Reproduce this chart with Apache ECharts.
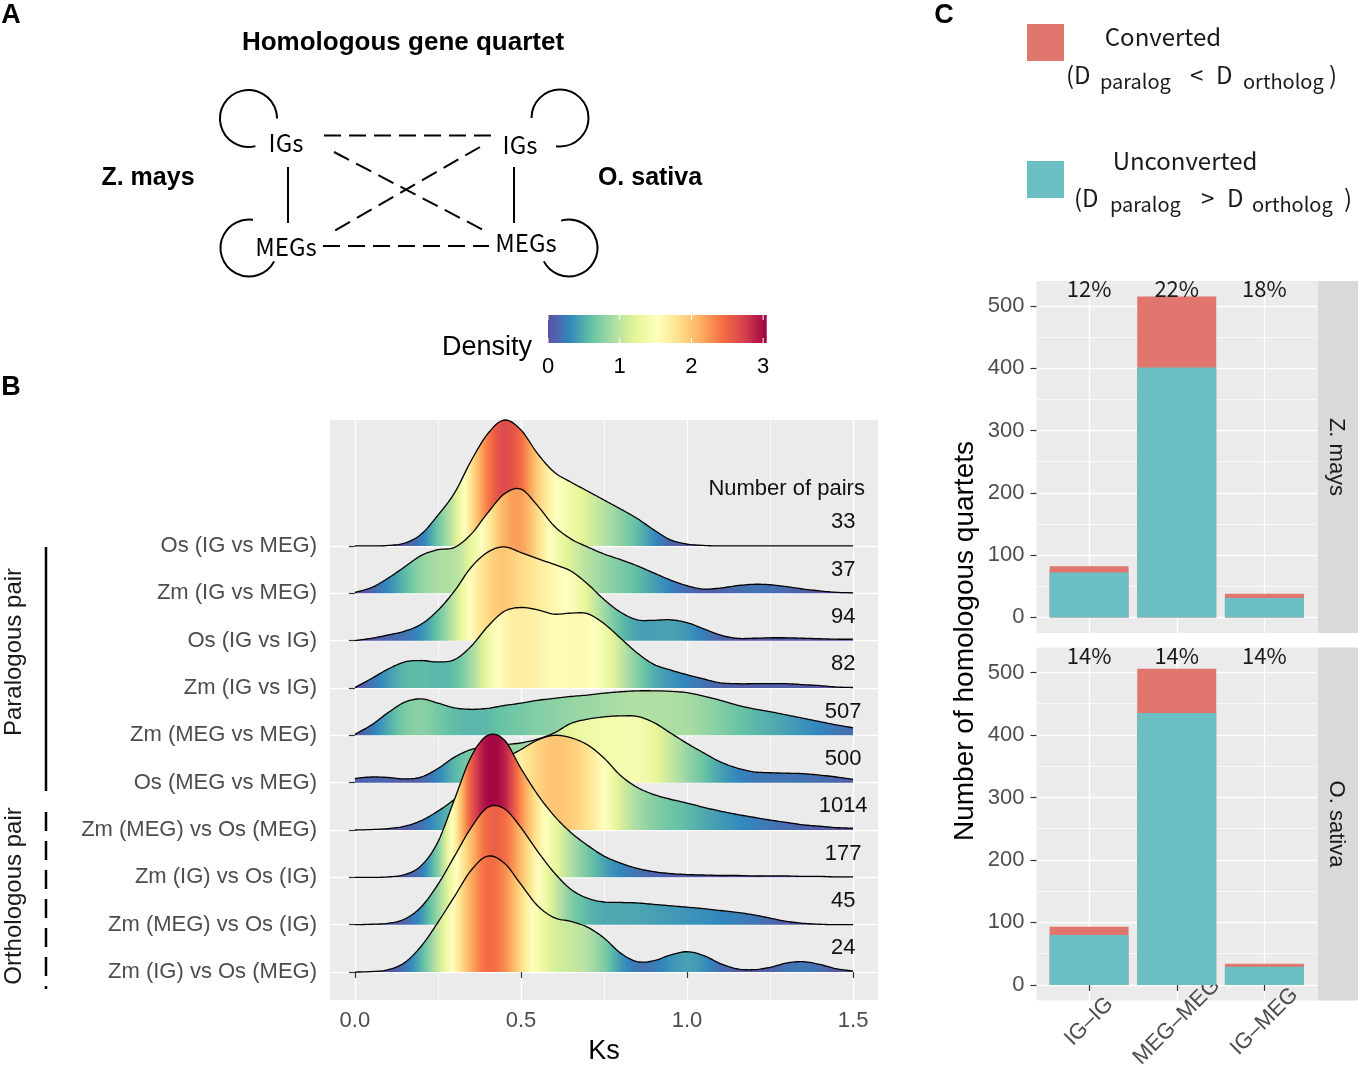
<!DOCTYPE html>
<html><head><meta charset="utf-8">
<script src="https://cdn.jsdelivr.net/npm/echarts@6/dist/echarts.min.js"></script>
<style>html,body{margin:0;padding:0;background:#fff}#c{width:1358px;height:1066px}</style>
</head><body><div id="c"></div><script>
// ---------------- DATA ----------------
// Panel B: Ks sample positions (x) and density curves per comparison (top row first)
const ks = [0,0.05,0.1,0.15,0.2,0.25,0.3,0.35,0.4,0.45,0.5,0.55,0.6,0.65,0.7,0.75,0.8,0.85,0.9,0.95,1,1.05,1.1,1.15,1.2,1.25,1.3,1.35,1.4,1.45,1.5];
const rowNames = ['Os (IG vs MEG)','Zm (IG vs MEG)','Os (IG vs IG)','Zm (IG vs IG)','Zm (MEG vs MEG)','Os (MEG vs MEG)','Zm (MEG) vs Os (MEG)','Zm (IG) vs Os (IG)','Zm (MEG) vs Os (IG)','Zm (IG) vs Os (MEG)'];
const pairCounts = [33, 37, 94, 82, 507, 500, 1014, 177, 45, 24];
const dOsIGvsMEG   = [0,0,0.01,0.06,0.25,0.65,1.12,1.8,2.37,2.66,2.45,1.95,1.56,1.35,1.16,0.97,0.78,0.58,0.34,0.13,0.04,0.01,0,0,0,0,0,0,0,0,0];
const dZmIGvsMEG   = [0.02,0.12,0.32,0.56,0.8,0.92,0.97,1.25,1.7,2.1,2.2,1.85,1.42,1.15,0.98,0.83,0.71,0.58,0.43,0.28,0.16,0.09,0.11,0.16,0.19,0.18,0.14,0.09,0.05,0.02,0.01];
const dOsIGvsIG    = [0,0.05,0.12,0.2,0.35,0.64,1.05,1.55,1.87,1.98,1.86,1.73,1.61,1.47,1.2,0.87,0.6,0.44,0.43,0.44,0.38,0.25,0.12,0.05,0.05,0.06,0.06,0.05,0.04,0.03,0.03];
const dZmIGvsIG    = [0.01,0.2,0.4,0.55,0.58,0.55,0.6,0.88,1.3,1.62,1.7,1.65,1.56,1.58,1.57,1.36,1.05,0.74,0.5,0.38,0.28,0.19,0.11,0.09,0.09,0.09,0.09,0.07,0.05,0.02,0.01];
const dZmMEGvsMEG  = [0.02,0.22,0.48,0.7,0.77,0.68,0.58,0.55,0.57,0.63,0.68,0.74,0.78,0.82,0.85,0.89,0.92,0.94,0.94,0.93,0.9,0.83,0.74,0.64,0.56,0.5,0.43,0.36,0.29,0.22,0.16];
const dOsMEGvsMEG  = [0.09,0.12,0.11,0.08,0.12,0.3,0.54,0.7,0.76,0.8,0.84,0.92,1.05,1.25,1.34,1.39,1.41,1.4,1.27,1.05,0.83,0.63,0.44,0.31,0.23,0.21,0.2,0.19,0.16,0.12,0.07];
const dZmMEGOsMEG  = [0,0.01,0.03,0.08,0.2,0.4,0.65,0.95,1.25,1.5,1.7,1.9,2.0,1.95,1.8,1.52,1.15,0.9,0.75,0.65,0.57,0.48,0.4,0.33,0.27,0.21,0.16,0.11,0.08,0.05,0.04];
const dZmIGOsIG    = [0,0,0.01,0.06,0.25,0.75,1.65,2.55,3.0,2.9,2.3,1.75,1.3,0.95,0.68,0.45,0.3,0.19,0.12,0.08,0.06,0.05,0.04,0.04,0.03,0.03,0.03,0.02,0.02,0.01,0.01];
const dZmMEGOsIG   = [0,0.01,0.03,0.12,0.38,0.85,1.45,2.05,2.48,2.45,2.05,1.55,1.1,0.75,0.56,0.48,0.47,0.46,0.43,0.4,0.37,0.34,0.3,0.26,0.21,0.14,0.07,0.03,0.01,0,0];
const dZmIGOsMEG   = [0,0.01,0.05,0.2,0.55,1.05,1.6,2.15,2.45,2.3,1.85,1.4,1.15,1.07,0.95,0.72,0.4,0.22,0.24,0.36,0.43,0.35,0.18,0.07,0.05,0.1,0.19,0.22,0.16,0.07,0.02];
const densities = [dOsIGvsMEG,dZmIGvsMEG,dOsIGvsIG,dZmIGvsIG,dZmMEGvsMEG,dOsMEGvsMEG,dZmMEGOsMEG,dZmIGOsIG,dZmMEGOsIG,dZmIGOsMEG];
const ksTicks = [0, 0.5, 1, 1.5];
const ksMinor = [0.25, 0.75, 1.25];
const densityTicks = [0, 1, 2, 3];
const densityMax = 3.05;

// Panel C
const cCats = ['IG\u2013IG', 'MEG\u2013MEG', 'IG\u2013MEG'];
const zmUnconverted = [72, 401, 31];
const zmConverted   = [10, 114, 7];
const zmPct = ['12%', '22%', '18%'];
const osUnconverted = [80, 435, 29];
const osConverted   = [13, 71, 5];
const osPct = ['14%', '14%', '14%'];
const countTicks = [0, 100, 200, 300, 400, 500];
const countMinor = [50, 150, 250, 350, 450];

// ---------------- HELPERS ----------------
const spectral = ['#5E4FA2','#3288BD','#66C2A5','#ABDDA4','#E6F598','#FFFFBF','#FEE08B','#FDAE61','#F46D43','#D53E4F','#9E0142'];
const specRGB = spectral.map(h => [parseInt(h.slice(1,3),16), parseInt(h.slice(3,5),16), parseInt(h.slice(5,7),16)]);
function colorAt(d) {
  let t = d / densityMax; t = t < 0 ? 0 : (t > 1 ? 1 : t);
  const p = t * (specRGB.length - 1);
  const i = Math.min(specRGB.length - 2, Math.floor(p));
  const f = p - i, a = specRGB[i], b = specRGB[i + 1];
  return 'rgb(' + Math.round(a[0] + (b[0]-a[0])*f) + ',' + Math.round(a[1] + (b[1]-a[1])*f) + ',' + Math.round(a[2] + (b[2]-a[2])*f) + ')';
}
const SUB = 8;
function smoothPts(p, yMax) {
  const out = [], n = p.length;
  for (let i = 0; i < n - 1; i++) {
    const p0 = p[Math.max(0, i - 1)], p1 = p[i], p2 = p[i + 1], p3 = p[Math.min(n - 1, i + 2)];
    for (let s = 0; s < SUB; s++) {
      const t = s / SUB, t2 = t * t, t3 = t2 * t;
      const c = k => 0.5 * (2*p1[k] + (-p0[k] + p2[k])*t + (2*p0[k] - 5*p1[k] + 4*p2[k] - p3[k])*t2 + (-p0[k] + 3*p1[k] - 3*p2[k] + p3[k])*t3);
      out.push([c(0), Math.min(c(1), yMax)]);
    }
  }
  out.push([p[n-1][0], Math.min(p[n-1][1], yMax)]);
  return out;
}
const nRows = rowNames.length;

function renderRidge(params, api) {
  const i = params.dataIndex;
  const yb = nRows - 1 - i;
  const dens = densities[i];
  const pts = ks.map((x, j) => api.coord([x, yb + dens[j]]));
  const b0 = api.coord([ks[0], yb]);
  const b1 = api.coord([ks[ks.length - 1], yb]);
  const unit = api.size([0, 1])[1];
  const curve = smoothPts(pts, b0[1]);
  const poly = curve.concat([[b1[0], b1[1]], [b0[0], b0[1]]]);
  const stops = curve.map(pt => ({
    offset: Math.max(0, Math.min(1, (pt[0] - b0[0]) / (b1[0] - b0[0]))),
    color: colorAt((b0[1] - pt[1]) / unit)
  }));
  return {
    type: 'group',
    children: [
      { type: 'polygon', shape: { points: poly },
        style: { fill: { type: 'linear', x: b0[0], y: 0, x2: b1[0], y2: 0, global: true, colorStops: stops }, stroke: null } },
      { type: 'polyline', shape: { points: curve }, style: { stroke: '#000', lineWidth: 1.3, fill: null } }
    ]
  };
}

// ---------------- GRAPHICS (panel A diagram, legends, titles) ----------------
const FS = "'Liberation Sans', Arial, sans-serif";
const CJK = "'Noto Sans CJK SC', 'Noto Sans', sans-serif";
const G = [];
function txt(x, y, text, size, opts) {
  opts = opts || {};
  G.push({
    type: 'text', x: x, y: y, rotation: opts.rotation || 0, z: 100,
    style: {
      text: text, fill: opts.color || '#000',
      font: (opts.weight || 'normal') + ' ' + size + 'px ' + (opts.family || FS),
      align: opts.align || 'center', verticalAlign: 'middle',
      textAlign: opts.align || 'center', textVerticalAlign: 'middle'
    }
  });
}
function line(x1, y1, x2, y2, dash, w) {
  G.push({ type: 'line', z: 100, shape: { x1, y1, x2, y2 }, style: { stroke: '#000', lineWidth: w || 2, lineDash: dash || null } });
}
function arc(cx, cy, r, a0, a1) {
  G.push({ type: 'arc', z: 100, shape: { cx, cy, r, startAngle: a0 * Math.PI / 180, endAngle: a1 * Math.PI / 180, clockwise: true },
    style: { stroke: '#000', lineWidth: 2, fill: null } });
}
// panel letters
txt(11, 16, 'A', 27, { weight: 'bold' });
txt(11, 388, 'B', 27, { weight: 'bold' });
txt(944, 16, 'C', 27, { weight: 'bold' });
// panel A
txt(403, 43, 'Homologous gene quartet', 26, { weight: 'bold' });
txt(148, 178, 'Z. mays', 25, { weight: 'bold' });
txt(650, 178, 'O. sativa', 25, { weight: 'bold' });
txt(286, 143, 'IGs', 24, { family: CJK });
txt(520, 145, 'IGs', 24, { family: CJK });
txt(286, 247, 'MEGs', 24, { family: CJK });
txt(526, 243, 'MEGs', 24, { family: CJK });
line(288, 167, 288, 223);
line(514, 167, 514, 223);
line(324, 135.5, 492, 135.5, [17, 8]);
line(323, 246, 489, 246, [17, 8]);
line(334, 152, 489, 233, [17, 8]);
line(480, 147, 334, 231, [17, 8]);
arc(248.5, 118.5, 28.5, 76, 360);
arc(560, 118, 28.5, 180, 458);
arc(249, 248, 28.5, 28, 278);
arc(569, 248, 28.5, 254, 512);
// density colorbar
const cbX = 548, cbY = 315, cbW = 218.7, cbH = 28;
G.push({ type: 'rect', z: 100, shape: { x: cbX, y: cbY, width: cbW, height: cbH },
  style: { fill: { type: 'linear', x: 0, y: 0, x2: 1, y2: 0, colorStops: spectral.map((c, i) => ({ offset: i / (spectral.length - 1), color: c })) } } });
densityTicks.forEach(v => {
  const px = cbX + v / densityMax * cbW;
  G.push({ type: 'line', z: 101, shape: { x1: px, y1: cbY, x2: px, y2: cbY + 5 }, style: { stroke: '#fff', lineWidth: 1 } });
  G.push({ type: 'line', z: 101, shape: { x1: px, y1: cbY + cbH - 5, x2: px, y2: cbY + cbH }, style: { stroke: '#fff', lineWidth: 1 } });
  txt(px, 367, String(v), 22);
});
txt(487, 348, 'Density', 27);
// panel B side group labels
txt(14, 652, 'Paralogous pair', 24, { rotation: Math.PI / 2, color: '#1a1a1a' });
txt(14, 896, 'Orthologous pair', 24, { rotation: Math.PI / 2, color: '#1a1a1a' });
line(46, 547, 46, 791, null, 2.5);
line(46, 812, 46, 989, [19, 10], 2.5);
// panel C legend
const RED = '#E0766E', TEAL = '#6CBFC3';
G.push({ type: 'rect', z: 100, shape: { x: 1027, y: 24, width: 37, height: 37 }, style: { fill: RED } });
G.push({ type: 'rect', z: 100, shape: { x: 1027, y: 161, width: 37, height: 37 }, style: { fill: TEAL } });
txt(1163, 37, 'Converted', 24, { family: CJK, color: '#1a1a1a' });
txt(1185, 161, 'Unconverted', 24, { family: CJK, color: '#1a1a1a' });
function relLine(y, pieces) {
  pieces.forEach(p => txt(p[0], y + (p[2] ? 6 : 0), p[1], p[2] ? 20 : 24, { family: CJK, align: 'left', color: '#1a1a1a' }));
}
relLine(75, [[1066, '(D', 0], [1100, 'paralog', 1], [1190, '<', 0], [1216, 'D', 0], [1243, 'ortholog', 1], [1329, ')', 0]]);
relLine(198, [[1074, '(D', 0], [1110, 'paralog', 1], [1201, '>', 0], [1227, 'D', 0], [1252, 'ortholog', 1], [1344, ')', 0]]);
// panel C strips
G.push({ type: 'rect', z: 1, shape: { x: 1317.5, y: 281, width: 45, height: 352 }, style: { fill: '#D9D9D9' } });
G.push({ type: 'rect', z: 1, shape: { x: 1317.5, y: 647.5, width: 45, height: 353 }, style: { fill: '#D9D9D9' } });
txt(1336, 457, 'Z. mays', 22, { rotation: -Math.PI / 2, color: '#1a1a1a' });
txt(1336, 824, 'O. sativa', 22, { rotation: -Math.PI / 2, color: '#1a1a1a' });
txt(965, 641, 'Number of homologous quartets', 28, { rotation: Math.PI / 2 });

// text labels placed by data coordinates (custom series)
function textSeries(xi, yi, pts, labels, font, color) {
  return {
    type: 'custom', xAxisIndex: xi, yAxisIndex: yi, z: 6, data: pts,
    renderItem: (params, api) => {
      const p = api.coord([api.value(0), api.value(1)]);
      return { type: 'text', x: p[0], y: p[1], style: {
        text: labels[params.dataIndex], fill: color, font: font,
        align: 'center', verticalAlign: 'middle', textAlign: 'center', textVerticalAlign: 'middle' } };
    }
  };
}

// ---------------- OPTION ----------------
const axisTextGray = '#4D4D4D';
function valueAxisBase(extra) {
  return Object.assign({
    type: 'value', axisLine: { show: false },
    axisTick: { show: true, length: 6, lineStyle: { color: '#333', width: 1.2 } },
    splitLine: { show: true, lineStyle: { color: '#fff', width: 1.4 } },
    axisLabel: { color: axisTextGray, fontSize: 22, fontFamily: FS }
  }, extra);
}
function minorAxis(extra, vals) {
  return Object.assign({
    type: 'value', axisLine: { show: false },
    axisTick: { show: false, customValues: vals },
    axisLabel: { show: false, customValues: vals },
    splitLine: { show: true, lineStyle: { color: '#fff', width: 0.7 } }
  }, extra);
}
const barPanel = (xi, yi, unconv, conv, pct) => [
  { type: 'bar', xAxisIndex: xi, yAxisIndex: yi, barWidth: 79, barGap: '-100%', itemStyle: { color: RED },
    data: cCats.map((c, k) => [k + 1, unconv[k] + conv[k]]), z: 3 },
  { type: 'bar', xAxisIndex: xi, yAxisIndex: yi, barWidth: 79, barGap: '-100%', itemStyle: { color: TEAL },
    data: cCats.map((c, k) => [k + 1, unconv[k]]), z: 3 },
  textSeries(xi, yi, cCats.map((c, k) => [k + 1, 527]), pct, '22px ' + CJK, '#1a1a1a')
];

const option = {
  animation: false,
  backgroundColor: '#fff',
  grid: [
    { left: 330, top: 420, width: 548, height: 580, show: true, backgroundColor: '#EBEBEB', borderWidth: 0, containLabel: false, outerBoundsMode: 'none' },
    { left: 1036.5, top: 281, width: 280.5, height: 352, show: true, backgroundColor: '#EBEBEB', borderWidth: 0, containLabel: false, outerBoundsMode: 'none' },
    { left: 1036.5, top: 647.5, width: 280.5, height: 353, show: true, backgroundColor: '#EBEBEB', borderWidth: 0, containLabel: false, outerBoundsMode: 'none' }
  ],
  xAxis: [
    valueAxisBase({ gridIndex: 0, min: -0.075, max: 1.575, position: 'bottom',
      name: 'Ks', nameLocation: 'middle', nameGap: 38, nameTextStyle: { fontSize: 27, color: '#000', fontFamily: FS },
      axisTick: { show: true, length: 6, customValues: ksTicks, lineStyle: { color: '#333', width: 1.2 } },
      axisLabel: { color: axisTextGray, fontSize: 22, fontFamily: FS, margin: 10, customValues: ksTicks, formatter: v => Number(v).toFixed(1) } }),
    minorAxis({ gridIndex: 0, min: -0.075, max: 1.575, position: 'bottom' }, ksMinor),
    valueAxisBase({ gridIndex: 1, min: 0.4, max: 3.6,
      axisTick: { show: false, customValues: [1, 2, 3] },
      axisLabel: { show: false, customValues: [1, 2, 3] } }),
    valueAxisBase({ gridIndex: 2, min: 0.4, max: 3.6,
      axisTick: { show: true, length: 6, customValues: [1, 2, 3], lineStyle: { color: '#333', width: 1.2 } },
      axisLabel: { color: axisTextGray, fontSize: 22, fontFamily: FS, customValues: [1, 2, 3], rotate: 45, margin: 21,
        align: 'center', verticalAlign: 'middle', formatter: v => cCats[Math.round(v) - 1] } })
  ],
  yAxis: [
    valueAxisBase({ gridIndex: 0, min: -0.59, max: 11.66,
      axisTick: { show: true, length: 6, customValues: [0,1,2,3,4,5,6,7,8,9], lineStyle: { color: '#333', width: 1.2 } },
      axisLabel: { color: axisTextGray, fontSize: 22, fontFamily: FS, margin: 13, customValues: [0,1,2,3,4,5,6,7,8,9],
        formatter: v => rowNames[nRows - 1 - Math.round(v)] } }),
    valueAxisBase({ gridIndex: 1, min: -25, max: 540,
      axisTick: { show: true, length: 6, customValues: countTicks, lineStyle: { color: '#333', width: 1.2 } },
      axisLabel: { color: axisTextGray, fontSize: 22, fontFamily: FS, margin: 12, customValues: countTicks } }),
    minorAxis({ gridIndex: 1, min: -25, max: 540 }, countMinor),
    valueAxisBase({ gridIndex: 2, min: -25, max: 540,
      axisTick: { show: true, length: 6, customValues: countTicks, lineStyle: { color: '#333', width: 1.2 } },
      axisLabel: { color: axisTextGray, fontSize: 22, fontFamily: FS, margin: 12, customValues: countTicks } }),
    minorAxis({ gridIndex: 2, min: -25, max: 540 }, countMinor)
  ],
  series: [
    { type: 'custom', xAxisIndex: 0, yAxisIndex: 0, renderItem: renderRidge, z: 3,
      data: rowNames.map((n, i) => [0.75, nRows - 1 - i]) },
    textSeries(0, 0, pairCounts.map((c, i) => [1.47, nRows - 1 - i + 0.5]), pairCounts.map(String), '22px ' + FS, '#111'),
    textSeries(0, 0, [[1.3, nRows - 1 + 1.2]], ['Number of pairs'], '22px ' + FS, '#111')
  ].concat(barPanel(2, 1, zmUnconverted, zmConverted, zmPct))
   .concat(barPanel(3, 3, osUnconverted, osConverted, osPct)),
  graphic: { elements: G }
};
const chart = echarts.init(document.getElementById('c'), null, { renderer: 'canvas', width: 1358, height: 1066 });
chart.setOption(option);
</script></body></html>
